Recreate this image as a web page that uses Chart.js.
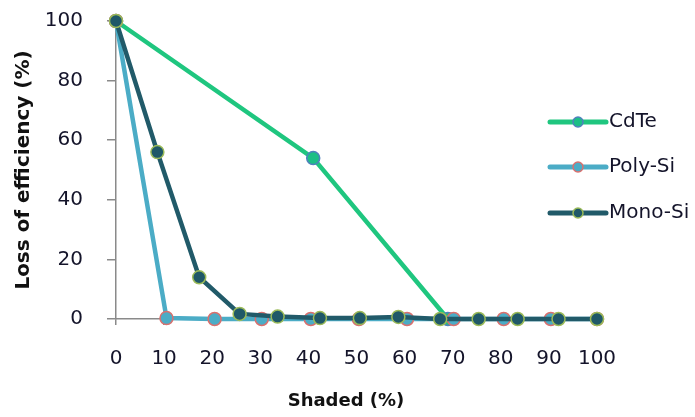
<!DOCTYPE html>
<html>
<head>
<meta charset="utf-8">
<script src="https://cdn.jsdelivr.net/npm/chart.js@4/dist/chart.umd.min.js"></script>
<style>
html,body{margin:0;padding:0;background:#fff;}
#wrap{position:relative;width:695px;height:417px;}
</style>
</head>
<body>
<div id="wrap"><canvas id="c" width="695" height="417"></canvas></div>
<script>
// ---- data ----
const seriesNames = ['CdTe', 'Poly-Si', 'Mono-Si'];
const cdteX = [0, 41, 69];
const cdteY = [100, 54, 0];
const polyX = [0, 10.5, 20.5, 30.3, 40.5, 50.5, 60.5, 70.2, 80.6, 90.4, 100];
const polyY = [100, 0.3, 0, 0, 0, 0, 0, 0, 0, 0, 0];
const monoX = [0, 8.6, 17.3, 25.7, 33.6, 42.4, 50.7, 58.7, 67.4, 75.4, 83.5, 92, 100];
const monoY = [100, 56, 14, 1.7, 0.8, 0.3, 0.3, 0.7, 0, 0, 0, 0, 0];
const xTicks = [0, 10, 20, 30, 40, 50, 60, 70, 80, 90, 100];
const yTicks = [0, 20, 40, 60, 80, 100];
const xTitle = 'Shaded (%)';
const yTitle = 'Loss of efficiency (%)';

const pts = (xs, ys) => xs.map((x, i) => ({x: x, y: ys[i]}));

const styles = [
  {line: '#1fc67f', fill: '#1cbf86', border: '#4f81bd'},
  {line: '#4bacc6', fill: '#4bacc6', border: '#d9706e'},
  {line: '#215a69', fill: '#1f5868', border: '#9bbb59'}
];

const textColor = '#14142a';
const axisColor = '#8a8a8a';

const legendPlugin = {
  id: 'customLegend',
  afterDraw(chart) {
    const ctx = chart.ctx;
    const ys = [122, 167, 213];
    ctx.save();
    chart.data.datasets.forEach((ds, i) => {
      const st = styles[i];
      const y = ys[i];
      ctx.strokeStyle = st.line;
      ctx.lineWidth = 5;
      ctx.lineCap = 'round';
      ctx.beginPath();
      ctx.moveTo(550, y);
      ctx.lineTo(606, y);
      ctx.stroke();
      ctx.beginPath();
      ctx.arc(578, y, 5, 0, Math.PI * 2);
      ctx.fillStyle = st.fill;
      ctx.fill();
      ctx.lineWidth = 1.5;
      ctx.strokeStyle = st.border;
      ctx.stroke();
      ctx.fillStyle = textColor;
      ctx.font = '20px "DejaVu Sans"';
      ctx.textBaseline = 'middle';
      ctx.textAlign = 'left';
      ctx.fillText(seriesNames[i], 609, y);
    });
    // x-axis title
    ctx.fillStyle = '#111';
    ctx.font = 'bold 18px "DejaVu Sans"';
    ctx.textAlign = 'center';
    ctx.textBaseline = 'middle';
    ctx.fillText(xTitle, 346, 401);
    ctx.restore();
  }
};

const mk = (i, xs, ys, order) => ({
  label: seriesNames[i],
  data: pts(xs, ys),
  borderColor: styles[i].line,
  backgroundColor: styles[i].fill,
  pointBackgroundColor: styles[i].fill,
  pointBorderColor: styles[i].border,
  pointBorderWidth: 1.5,
  pointRadius: 6.5,
  borderWidth: 4.5,
  tension: 0,
  order: order,
  clip: false
});

new Chart(document.getElementById('c'), {
  type: 'line',
  data: {
    datasets: [
      mk(0, cdteX, cdteY, 2),
      mk(1, polyX, polyY, 1),
      mk(2, monoX, monoY, 0)
    ]
  },
  plugins: [legendPlugin],
  options: {
    responsive: false,
    animation: false,
    layout: {autoPadding: false, padding: {top: 21, right: 98, left: 0, bottom: 0}},
    plugins: {legend: {display: false}, tooltip: {enabled: false}},
    scales: {
      x: {
        type: 'linear',
        min: 0, max: 100,
        afterBuildTicks: (s) => { s.ticks = xTicks.map(v => ({value: v})); },
        afterFit: (s) => { s.height = 98; s.paddingLeft = 0; s.paddingRight = 0; },
        ticks: {color: textColor, font: {family: 'DejaVu Sans', size: 20}, padding: 22, maxRotation: 0},
        grid: {drawOnChartArea: false, color: axisColor, tickLength: 6, lineWidth: 1.5},
        border: {color: axisColor, width: 1.5},
        title: {display: false}
      },
      y: {
        min: 0, max: 100,
        afterBuildTicks: (s) => { s.ticks = yTicks.map(v => ({value: v})); },
        afterFit: (s) => { s.width = 116; s.paddingTop = 0; s.paddingBottom = 0; },
        ticks: {color: textColor, font: {family: 'DejaVu Sans', size: 20}, padding: 24},
        grid: {drawOnChartArea: false, color: axisColor, tickLength: 9, lineWidth: 1.5},
        border: {color: axisColor, width: 1.5},
        title: {display: true, text: yTitle, color: '#111', font: {family: 'DejaVu Sans', size: 20, weight: 'bold'}, padding: {top: 12, bottom: 0}}
      }
    }
  }
});
</script>
</body>
</html>
